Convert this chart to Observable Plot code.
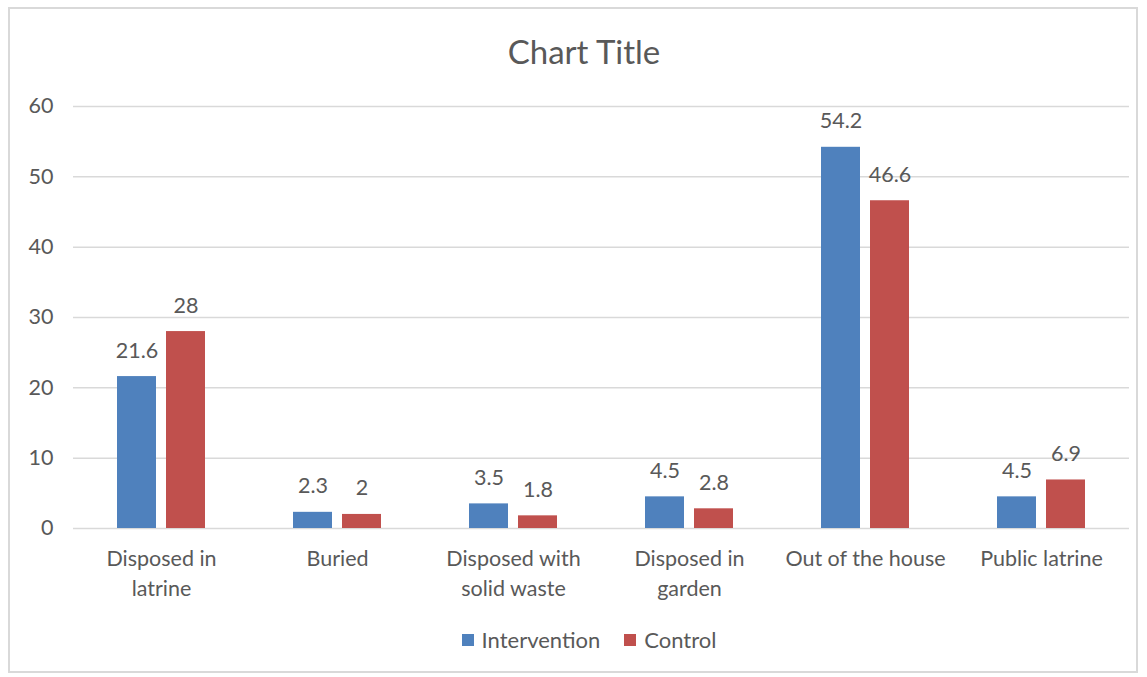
<!DOCTYPE html>
<html>
<head>
<meta charset="utf-8">
<script src="https://cdn.jsdelivr.net/npm/d3@7"></script>
<script src="https://cdn.jsdelivr.net/npm/@observablehq/plot@0.6"></script>
<style>
  html, body { margin: 0; padding: 0; background: #fff; }
  body { width: 1147px; height: 677px; position: relative; overflow: hidden; font-family: Lato, "Open Sans", sans-serif; color: #595959; }
  #frame { position: absolute; left: 8px; top: 7px; width: 1130px; height: 666px; border: 2px solid #D9D9D9; box-sizing: border-box; }
  #title { position: absolute; left: 0; width: 1168px; top: 31px; text-align: center; font-size: 33px; color: #595959; }
  #chart { position: absolute; left: 0; top: 0; }
  #legend { position: absolute; top: 626px; left: 0; width: 1178px; display: flex; justify-content: center; gap: 24px; font-size: 22px; color: #595959; }
  #legend .item { display: flex; align-items: center; gap: 8px; }
  #legend .sw { width: 12px; height: 12px; display: inline-block; }
</style>
</head>
<body>
<div id="frame"></div>
<div id="title">Chart Title</div>
<div id="chart"></div>
<div id="legend"></div>
<script>
// Disposal method of child faeces, % of households
const categories = ["Disposed in latrine", "Buried", "Disposed with solid waste", "Disposed in garden", "Out of the house", "Public latrine"];
const categoryLabels = ["Disposed in\nlatrine", "Buried", "Disposed with\nsolid waste", "Disposed in\ngarden", "Out of the house", "Public latrine"];
const seriesNames = ["Intervention", "Control"];
const intervention = [21.6, 2.3, 3.5, 4.5, 54.2, 4.5];
const control = [28, 2, 1.8, 2.8, 46.6, 6.9];
const yTicks = [0, 10, 20, 30, 40, 50, 60];
const colors = ["#4F81BD", "#C0504D"];

const rows = [];
categories.forEach((c, i) => {
  rows.push({category: c, series: seriesNames[0], value: intervention[i]});
  rows.push({category: c, series: seriesNames[1], value: control[i]});
});
const labelOf = new Map(categories.map((c, i) => [c, categoryLabels[i]]));

const chart = Plot.plot({
  width: 1147,
  height: 610,
  marginLeft: 72,
  marginRight: 17,
  marginTop: 106,
  marginBottom: 82,
  style: {fontFamily: "Lato, 'Open Sans', sans-serif", fontSize: "21.5px", color: "#595959", background: "transparent"},
  fx: {domain: categories, paddingInner: 0, paddingOuter: 0, axis: null},
  x: {domain: seriesNames, paddingInner: 0.2, paddingOuter: 0.863, axis: null},
  y: {domain: [0, 60], axis: null},
  color: {domain: seriesNames, range: colors},
  marks: [
    Plot.gridY(yTicks, {stroke: "#D9D9D9", strokeOpacity: 1, strokeWidth: 1.5}),
    Plot.axisY(yTicks, {tickSize: 0, tickPadding: 20, fontSize: 21.5, fill: "#595959", label: null}),
    Plot.barY(rows, {fx: "category", x: "series", y: "value", fill: "series"}),
    Plot.text(rows, {fx: "category", x: "series", y: "value", text: d => String(d.value), lineAnchor: "bottom", dy: -19, fontSize: 21.5, fill: "#595959"}),
    Plot.axisFx({anchor: "bottom", tickSize: 0, tickPadding: 16, tickFormat: c => labelOf.get(c), lineHeight: 1.4, fontSize: 21.5, fill: "#595959", label: null})
  ]
});
document.getElementById("chart").appendChild(chart);

const legend = document.getElementById("legend");
seriesNames.forEach((s, i) => {
  const item = document.createElement("span");
  item.className = "item";
  const sw = document.createElement("span");
  sw.className = "sw";
  sw.style.background = colors[i];
  item.appendChild(sw);
  item.appendChild(document.createTextNode(s));
  legend.appendChild(item);
});
</script>
</body>
</html>
